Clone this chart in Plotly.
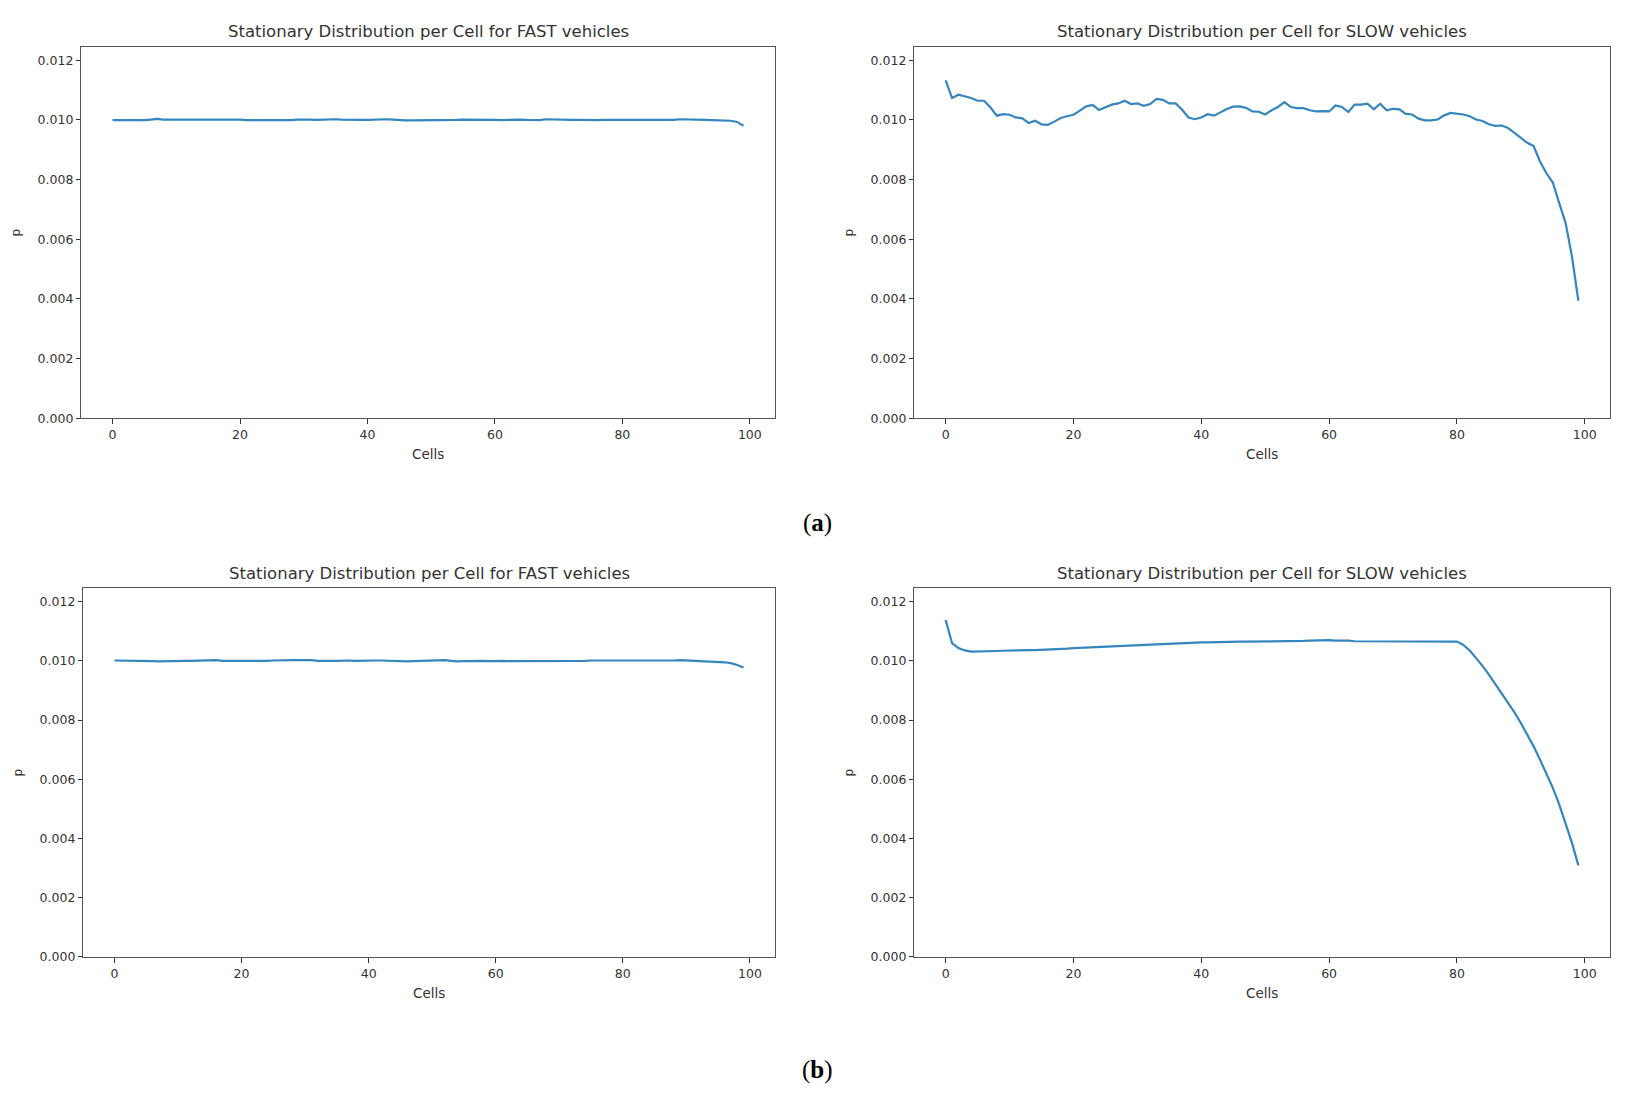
import plotly.graph_objects as go

W, H = 1629, 1104

cells = list(range(100))

fast_a = [0.00999, 0.00999, 0.00999, 0.00999, 0.00998, 0.00999, 0.01001, 0.01003, 0.01001, 0.01001,
          0.01001, 0.01001, 0.01001, 0.01002, 0.01002, 0.01001, 0.01002, 0.01002, 0.01002, 0.01001,
          0.01001, 0.00999, 0.00998, 0.00999, 0.00999, 0.00999, 0.00998, 0.00998, 0.00999, 0.01001,
          0.01002, 0.01001, 0.01000, 0.01001, 0.01002, 0.01002, 0.01001, 0.01000, 0.01000, 0.01000,
          0.01000, 0.01001, 0.01002, 0.01002, 0.01001, 0.00999, 0.00998, 0.00998, 0.00998, 0.00999,
          0.00999, 0.00999, 0.01000, 0.00999, 0.01000, 0.01001, 0.01001, 0.01001, 0.01001, 0.01002,
          0.01000, 0.00999, 0.01000, 0.01001, 0.01001, 0.01000, 0.00999, 0.00999, 0.01002, 0.01001,
          0.01000, 0.00999, 0.01000, 0.01000, 0.00999, 0.00999, 0.00999, 0.01000, 0.01001, 0.01000,
          0.01000, 0.01000, 0.01001, 0.01000, 0.01001, 0.01000, 0.00999, 0.00999, 0.01000, 0.01002,
          0.01002, 0.01001, 0.01000, 0.01000, 0.00999, 0.00999, 0.00998, 0.00997, 0.00993, 0.00980]

slow_a = [0.01132, 0.01073, 0.01084, 0.01079, 0.01073, 0.01064, 0.01064, 0.01042, 0.01014, 0.01019,
          0.01017, 0.01008, 0.01005, 0.00989, 0.00997, 0.00985, 0.00983, 0.00994, 0.01006, 0.01012,
          0.01017, 0.01031, 0.01045, 0.01050, 0.01033, 0.01042, 0.01051, 0.01055, 0.01064, 0.01053,
          0.01055, 0.01047, 0.01053, 0.01070, 0.01067, 0.01055, 0.01055, 0.01034, 0.01008, 0.01002,
          0.01008, 0.01019, 0.01014, 0.01025, 0.01036, 0.01044, 0.01045, 0.01040, 0.01028, 0.01027,
          0.01018, 0.01032, 0.01043, 0.01059, 0.01043, 0.01039, 0.01039, 0.01032, 0.01028, 0.01029,
          0.01028, 0.01048, 0.01043, 0.01026, 0.01051, 0.01051, 0.01054, 0.01035, 0.01054, 0.01032,
          0.01037, 0.01035, 0.01020, 0.01018, 0.01004, 0.00998, 0.00998, 0.01001, 0.01015, 0.01023,
          0.01020, 0.01018, 0.01012, 0.01001, 0.00996, 0.00985, 0.00980, 0.00981, 0.00973, 0.00956,
          0.00937, 0.00923, 0.00912, 0.00860, 0.00821, 0.00790, 0.00721, 0.00655, 0.00542, 0.00394]

fast_b = [0.01001, 0.01001, 0.01000, 0.01001, 0.01000, 0.00999, 0.00999, 0.00998, 0.00999, 0.01000,
          0.01000, 0.01000, 0.01000, 0.01001, 0.01002, 0.01003, 0.01002, 0.01000, 0.01000, 0.00999,
          0.00999, 0.00998, 0.00998, 0.00999, 0.01000, 0.01001, 0.01002, 0.01003, 0.01002, 0.01002,
          0.01003, 0.01002, 0.01000, 0.00999, 0.01000, 0.01000, 0.01001, 0.01001, 0.01000, 0.01001,
          0.01002, 0.01001, 0.01001, 0.01000, 0.00999, 0.00998, 0.00998, 0.00999, 0.01000, 0.00999,
          0.01001, 0.01003, 0.01002, 0.01000, 0.00998, 0.00999, 0.01000, 0.01000, 0.01000, 0.00999,
          0.01000, 0.01000, 0.00999, 0.00999, 0.00998, 0.00999, 0.00999, 0.00998, 0.00999, 0.01000,
          0.01000, 0.00999, 0.00999, 0.01000, 0.01000, 0.01001, 0.01001, 0.01000, 0.01000, 0.01000,
          0.01000, 0.00999, 0.01000, 0.01000, 0.00999, 0.01000, 0.01000, 0.01001, 0.01001, 0.01002,
          0.01001, 0.01000, 0.01000, 0.00999, 0.00999, 0.00998, 0.00995, 0.00992, 0.00986, 0.00977]

slow_b = [0.01138, 0.01060, 0.01043, 0.01035, 0.01031, 0.01031, 0.01031, 0.01032, 0.01033, 0.01034,
          0.01035, 0.01035, 0.01036, 0.01036, 0.01036, 0.01037, 0.01036, 0.01037, 0.01039, 0.01041,
          0.01043, 0.01044, 0.01045, 0.01046, 0.01047, 0.01048, 0.01049, 0.01050, 0.01051, 0.01052,
          0.01054, 0.01055, 0.01056, 0.01057, 0.01058, 0.01059, 0.01059, 0.01060, 0.01061, 0.01061,
          0.01062, 0.01062, 0.01063, 0.01063, 0.01064, 0.01064, 0.01065, 0.01065, 0.01065, 0.01065,
          0.01065, 0.01065, 0.01066, 0.01066, 0.01066, 0.01066, 0.01067, 0.01068, 0.01069, 0.01071,
          0.01070, 0.01068, 0.01069, 0.01068, 0.01066, 0.01066, 0.01066, 0.01066, 0.01066, 0.01066,
          0.01066, 0.01065, 0.01065, 0.01065, 0.01065, 0.01065, 0.01066, 0.01066, 0.01066, 0.01066,
          0.01065, 0.01054, 0.01035, 0.01009, 0.00983, 0.00953, 0.00922, 0.00891, 0.00860, 0.00826,
          0.00790, 0.00751, 0.00711, 0.00666, 0.00621, 0.00571, 0.00515, 0.00453, 0.00385, 0.00309]

x_ticks = [0, 20, 40, 60, 80, 100]
y_ticks = [0.000, 0.002, 0.004, 0.006, 0.008, 0.010, 0.012]
y_tick_text = ["0.000", "0.002", "0.004", "0.006", "0.008", "0.010", "0.012"]

title_fast = "Stationary Distribution per Cell for FAST vehicles"
title_slow = "Stationary Distribution per Cell for SLOW vehicles"

LINE = "#3585bf"
TXT = "#333333"
FONT = "DejaVu Sans"

# panel boxes in pixels: (x0, x1, y0_top, y1_bottom)
panels = [
    (81, 775, 47, 421, fast_a, title_fast),
    (914, 1610, 47, 421, slow_a, title_slow),
    (83, 775, 592, 963, fast_b, title_fast),
    (914, 1610, 592, 963, slow_b, title_slow),
]

fig = go.Figure()
annotations = []
for k, (x0, x1, yt, yb, series, title) in enumerate(panels):
    n = "" if k == 0 else str(k + 1)
    fig.add_trace(go.Scatter(x=cells, y=series, mode="lines",
                             line=dict(color=LINE, width=2.2),
                             xaxis="x" + n, yaxis="y" + n, showlegend=False,
                             hoverinfo="skip"))
    ax = dict(domain=[x0 / W, x1 / W], anchor="y" + n, range=[-4.95, 103.95],
              tickvals=x_ticks, ticks="outside", ticklen=5, tickcolor=TXT,
              showline=True, linecolor="#555555", linewidth=1.2, mirror=True,
              showgrid=False, zeroline=False,
              tickfont=dict(family=FONT, size=12.5, color=TXT))
    ay = dict(domain=[1 - yb / H, 1 - yt / H], anchor="x" + n, range=[0, 0.01245],
              tickvals=y_ticks, ticktext=y_tick_text, ticks="outside", ticklen=4,
              tickcolor=TXT, showline=True, linecolor="#555555", linewidth=1.2,
              mirror=True, showgrid=False, zeroline=False,
              tickfont=dict(family=FONT, size=12.5, color=TXT))
    fig.update_layout(**{"xaxis" + n: ax, "yaxis" + n: ay})
    cx = (x0 + x1) / 2
    annotations.append(dict(text=title, x=cx / W, y=1 - (yt - 15) / H, xref="paper", yref="paper",
                            showarrow=False, font=dict(family=FONT, size=16.5, color=TXT),
                            xanchor="center", yanchor="middle"))
    annotations.append(dict(text="Cells", x=cx / W, y=1 - (yb + 36) / H, xref="paper", yref="paper",
                            showarrow=False, font=dict(family=FONT, size=13.5, color=TXT),
                            xanchor="center", yanchor="middle"))
    annotations.append(dict(text="p", x=(x0 - 65) / W, y=1 - ((yt + yb) / 2) / H, xref="paper",
                            yref="paper", showarrow=False, textangle=-90,
                            font=dict(family=FONT, size=12, color=TXT),
                            xanchor="center", yanchor="middle"))

annotations.append(dict(text="(<b>a</b>)", x=817 / W, y=1 - 526 / H, xref="paper", yref="paper",
                        showarrow=False, font=dict(family="Liberation Serif", size=25, color="#000000"),
                        xanchor="center", yanchor="middle"))
annotations.append(dict(text="(<b>b</b>)", x=817 / W, y=1 - 1077 / H, xref="paper", yref="paper",
                        showarrow=False, font=dict(family="Liberation Serif", size=25, color="#000000"),
                        xanchor="center", yanchor="middle"))

fig.update_layout(width=W, height=H, margin=dict(l=0, r=0, t=0, b=0),
                  paper_bgcolor="white", plot_bgcolor="white",
                  annotations=annotations, showlegend=False)

css = ("var s=document.createElement('style');"
       "s.innerHTML='html,body{margin:0;padding:0;overflow:hidden;}';"
       "document.head.appendChild(s);")
fig.write_html("out.html", config={"displayModeBar": False}, post_script=css)
